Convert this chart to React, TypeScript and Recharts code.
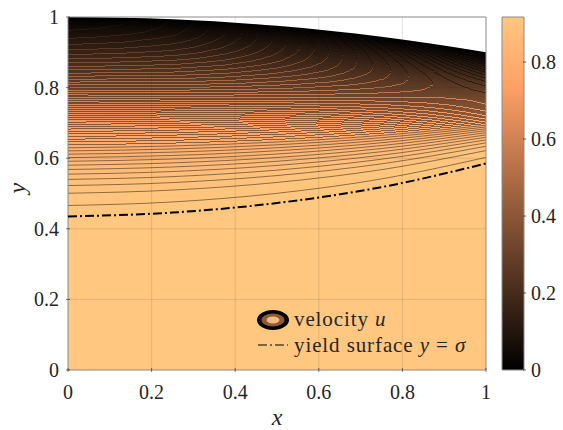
import { Area, ComposedChart, Legend, Line, ReferenceArea, ReferenceLine, XAxis, YAxis } from "recharts";

const INK = "#262626";
const SERIF = "'Liberation Serif', serif";

const xs = [0, 0.25, 0.5, 0.75, 1];
const topBoundary = [1, 0.9938, 0.975, 0.9438, 0.9];
const yieldSurface = [0.435, 0.446, 0.473, 0.518, 0.585];
const axisTicks = [0, 0.2, 0.4, 0.6, 0.8, 1];
const gridTicks = [0.2, 0.4, 0.6, 0.8];
const colorbarTicks = [0, 0.2, 0.4, 0.6, 0.8];
const colorbarMax = 0.917;

// velocity of each contour, lowest line first
const contourLevels = [
  0.914, 0.905, 0.895, 0.885, 0.876, 0.866, 0.857, 0.847, 0.837, 0.828, 0.818, 0.808, 0.799, 0.789, 0.78, 0.77,
  0.76, 0.751, 0.741, 0.731, 0.722, 0.712, 0.702, 0.693, 0.683, 0.674, 0.664, 0.654, 0.645, 0.635, 0.625, 0.616,
  0.606, 0.597, 0.587, 0.577, 0.568, 0.558, 0.548, 0.539, 0.529, 0.52, 0.51, 0.5, 0.491, 0.481, 0.471, 0.462,
  0.452, 0.442, 0.433, 0.423, 0.414, 0.404, 0.394, 0.385, 0.375, 0.365, 0.356, 0.346, 0.337, 0.327, 0.317, 0.308,
  0.298, 0.288, 0.279, 0.269, 0.26, 0.25, 0.24, 0.231, 0.221, 0.211, 0.202, 0.192, 0.182, 0.173, 0.163, 0.154,
  0.144, 0.134, 0.125, 0.115, 0.105, 0.096, 0.086, 0.077, 0.067, 0.057, 0.048, 0.038, 0.028, 0.019,
];

// y of each contour at the xs columns
const contours = [
  [0.466, 0.476, 0.5005, 0.5413, 0.6023],
  [0.5007, 0.5097, 0.5313, 0.5675, 0.6216],
  [0.5225, 0.5309, 0.5508, 0.584, 0.6338],
  [0.5399, 0.5478, 0.5662, 0.5971, 0.6435],
  [0.5548, 0.5622, 0.5795, 0.6084, 0.6518],
  [0.5681, 0.5751, 0.5913, 0.6184, 0.6592],
  [0.5802, 0.5868, 0.602, 0.6274, 0.6659],
  [0.5913, 0.5976, 0.6119, 0.6358, 0.6721],
  [0.6017, 0.6077, 0.6211, 0.6437, 0.6779],
  [0.6114, 0.6171, 0.6297, 0.651, 0.6833],
  [0.6207, 0.6261, 0.638, 0.658, 0.6885],
  [0.6295, 0.6346, 0.6458, 0.6646, 0.6934],
  [0.638, 0.6428, 0.6533, 0.671, 0.6982],
  [0.646, 0.6507, 0.6605, 0.6771, 0.7027],
  [0.6538, 0.6582, 0.6674, 0.683, 0.707],
  [0.6613, 0.6655, 0.6741, 0.6887, 0.7112],
  [0.6686, 0.6726, 0.6806, 0.6942, 0.7153],
  [0.6757, 0.6795, 0.6869, 0.6995, 0.7192],
  [0.6826, 0.6861, 0.693, 0.7047, 0.723],
  [0.6893, 0.6926, 0.6989, 0.7097, 0.7268],
  [0.6958, 0.6989, 0.7047, 0.7146, 0.7304],
  [0.7021, 0.7051, 0.7104, 0.7194, 0.7339],
  [0.7083, 0.7111, 0.7158, 0.7241, 0.7374],
  [0.7144, 0.717, 0.7212, 0.7287, 0.7408],
  [0.7203, 0.7227, 0.7265, 0.7331, 0.7441],
  [0.7261, 0.7284, 0.7317, 0.7375, 0.7473],
  [0.7319, 0.7339, 0.7368, 0.7418, 0.7505],
  [0.7374, 0.7393, 0.7417, 0.746, 0.7536],
  [0.7429, 0.7447, 0.7466, 0.7502, 0.7567],
  [0.7483, 0.7499, 0.7514, 0.7542, 0.7597],
  [0.7536, 0.755, 0.7561, 0.7582, 0.7626],
  [0.7588, 0.7601, 0.7607, 0.7621, 0.7655],
  [0.7639, 0.765, 0.7653, 0.766, 0.7684],
  [0.769, 0.77, 0.7698, 0.7699, 0.7712],
  [0.774, 0.7748, 0.7742, 0.7736, 0.774],
  [0.7789, 0.7796, 0.7786, 0.7773, 0.7767],
  [0.7838, 0.7843, 0.7829, 0.781, 0.7795],
  [0.7885, 0.7889, 0.7871, 0.7846, 0.7821],
  [0.7932, 0.7934, 0.7913, 0.7881, 0.7847],
  [0.7979, 0.798, 0.7954, 0.7916, 0.7873],
  [0.8025, 0.8024, 0.7995, 0.7951, 0.7899],
  [0.807, 0.8068, 0.8035, 0.7985, 0.7924],
  [0.8115, 0.8111, 0.8075, 0.8018, 0.7949],
  [0.8159, 0.8155, 0.8115, 0.8052, 0.7974],
  [0.8203, 0.8197, 0.8153, 0.8085, 0.7998],
  [0.8246, 0.8239, 0.8192, 0.8118, 0.8022],
  [0.8289, 0.828, 0.8229, 0.815, 0.8046],
  [0.8331, 0.8321, 0.8267, 0.8182, 0.8069],
  [0.8373, 0.8362, 0.8304, 0.8213, 0.8093],
  [0.8415, 0.8402, 0.8341, 0.8245, 0.8116],
  [0.8455, 0.8442, 0.8378, 0.8275, 0.8139],
  [0.8496, 0.8481, 0.8414, 0.8306, 0.8161],
  [0.8536, 0.852, 0.8449, 0.8336, 0.8184],
  [0.8576, 0.8559, 0.8485, 0.8367, 0.8206],
  [0.8616, 0.8597, 0.852, 0.8396, 0.8228],
  [0.8655, 0.8635, 0.8555, 0.8426, 0.825],
  [0.8694, 0.8673, 0.8589, 0.8455, 0.8272],
  [0.8732, 0.871, 0.8624, 0.8484, 0.8293],
  [0.877, 0.8747, 0.8657, 0.8513, 0.8314],
  [0.8808, 0.8784, 0.8691, 0.8541, 0.8335],
  [0.8845, 0.882, 0.8724, 0.8569, 0.8356],
  [0.8882, 0.8856, 0.8757, 0.8597, 0.8377],
  [0.8919, 0.8892, 0.879, 0.8625, 0.8397],
  [0.8956, 0.8927, 0.8822, 0.8653, 0.8418],
  [0.8992, 0.8962, 0.8854, 0.868, 0.8438],
  [0.9028, 0.8997, 0.8887, 0.8707, 0.8458],
  [0.9064, 0.9032, 0.8918, 0.8734, 0.8478],
  [0.9099, 0.9066, 0.8949, 0.8761, 0.8498],
  [0.9134, 0.91, 0.8981, 0.8787, 0.8517],
  [0.9169, 0.9134, 0.9012, 0.8813, 0.8537],
  [0.9204, 0.9168, 0.9043, 0.884, 0.8556],
  [0.9238, 0.9201, 0.9073, 0.8866, 0.8575],
  [0.9272, 0.9234, 0.9103, 0.8891, 0.8594],
  [0.9306, 0.9267, 0.9134, 0.8917, 0.8613],
  [0.934, 0.93, 0.9164, 0.8942, 0.8632],
  [0.9373, 0.9332, 0.9193, 0.8968, 0.8651],
  [0.9407, 0.9365, 0.9223, 0.8993, 0.8669],
  [0.944, 0.9396, 0.9252, 0.9017, 0.8688],
  [0.9472, 0.9428, 0.9281, 0.9042, 0.8706],
  [0.9505, 0.946, 0.931, 0.9067, 0.8724],
  [0.9538, 0.9492, 0.9339, 0.9092, 0.8742],
  [0.957, 0.9523, 0.9368, 0.9116, 0.876],
  [0.9602, 0.9554, 0.9396, 0.914, 0.8778],
  [0.9633, 0.9584, 0.9424, 0.9164, 0.8796],
  [0.9665, 0.9615, 0.9452, 0.9187, 0.8813],
  [0.9697, 0.9646, 0.948, 0.9211, 0.8831],
  [0.9728, 0.9676, 0.9508, 0.9235, 0.8848],
  [0.9759, 0.9706, 0.9536, 0.9258, 0.8865],
  [0.979, 0.9736, 0.9563, 0.9282, 0.8883],
  [0.982, 0.9766, 0.959, 0.9305, 0.89],
  [0.9851, 0.9796, 0.9618, 0.9328, 0.8917],
  [0.9881, 0.9825, 0.9645, 0.9351, 0.8934],
  [0.9912, 0.9855, 0.9672, 0.9374, 0.8951],
  [0.9942, 0.9884, 0.9698, 0.9396, 0.8968],
];

const copper = (t: number) => {
  const r = Math.round(255 * Math.min(1, 1.25 * t));
  const g = Math.round(255 * 0.7812 * t);
  const b = Math.round(255 * 0.4975 * t);
  return `rgb(${r},${g},${b})`;
};

const rows = xs.map((x, i) => {
  const row: Record<string, number> = { x, top: topBoundary[i], yieldLine: yieldSurface[i] };
  contours.forEach((c, k) => {
    row[`c${k}`] = c[i];
  });
  return row;
});

const colorbarRows = [
  { x: 0, top: colorbarMax },
  { x: 1, top: colorbarMax },
];

const label = (v: number) => String(v);

const BottomTick = ({ x, y, payload }: any) => (
  <g>
    <line x1={x} x2={x} y1={y - 4} y2={y} stroke={INK} strokeOpacity={0.6} />
    <text x={x} y={y + 27} textAnchor="middle" fontFamily={SERIF} fontSize={20} fill={INK}>
      {label(payload.value)}
    </text>
  </g>
);

const LeftTick = ({ x, y, payload }: any) => (
  <g>
    <line x1={x} x2={x + 4} y1={y} y2={y} stroke={INK} strokeOpacity={0.6} />
    <text x={x - 7} y={y + 7} textAnchor="end" fontFamily={SERIF} fontSize={20} fill={INK}>
      {label(payload.value)}
    </text>
  </g>
);

const TopTick = ({ x, y }: any) => <line x1={x} x2={x} y1={y} y2={y + 4} stroke={INK} strokeOpacity={0.6} />;
const RightTick = ({ x, y }: any) => <line x1={x} x2={x - 4} y1={y} y2={y} stroke={INK} strokeOpacity={0.6} />;

const BarTick = ({ x, y, payload }: any) => (
  <g>
    <line x1={x} x2={x - 3} y1={y} y2={y} stroke={INK} strokeOpacity={0.7} />
    <text x={x + 5} y={y + 7} fontFamily={SERIF} fontSize={20} fill={INK}>
      {label(payload.value)}
    </text>
  </g>
);

function LegendBox() {
  const text = { fontFamily: SERIF, fontSize: 21, letterSpacing: 0.9, fill: INK };
  return (
    <svg width={230} height={60} style={{ display: "block" }}>
      <ellipse cx={17} cy={15} rx={16} ry={10} fill="#000" />
      <ellipse cx={17} cy={15} rx={11.5} ry={6.5} fill="#8f5a38" />
      <ellipse cx={17} cy={15} rx={6.5} ry={3.5} fill="#f0bd7c" />
      <text x={38} y={21} {...text}>
        velocity <tspan fontStyle="italic">u</tspan>
      </text>
      <line x1={2} x2={32} y1={40} y2={40} stroke="#000" strokeWidth={1.2} strokeDasharray="9 3 2 3" />
      <text x={38} y={47} {...text}>
        yield surface <tspan fontStyle="italic">y</tspan> = <tspan fontStyle="italic">σ</tspan>
      </text>
    </svg>
  );
}

export default function App() {
  return (
    <div style={{ position: "absolute", left: 0, top: 0, width: 563, height: 430, background: "#fff" }}>
      <ComposedChart width={563} height={430} data={rows} margin={{ top: 17, right: 77, bottom: 0, left: 0 }}>
        <XAxis
          type="number"
          dataKey="x"
          domain={[0, 1]}
          ticks={axisTicks}
          height={60}
          tickSize={0}
          axisLine={false}
          tickLine={false}
          tick={BottomTick}
          label={{
            value: "x",
            position: "insideBottom",
            offset: 5,
            style: { fontFamily: SERIF, fontStyle: "italic", fontSize: 24, fill: INK },
          }}
        />
        <XAxis xAxisId="top" orientation="top" type="number" dataKey="x" domain={[0, 1]} ticks={axisTicks} height={0} tickSize={0} axisLine={false} tickLine={false} tick={TopTick} />
        <YAxis
          type="number"
          domain={[0, 1]}
          ticks={axisTicks}
          width={68}
          tickSize={0}
          axisLine={false}
          tickLine={false}
          tick={LeftTick}
          label={{
            value: "y",
            angle: -90,
            position: "insideLeft",
            offset: 16,
            style: { fontFamily: SERIF, fontStyle: "italic", fontSize: 24, fill: INK },
          }}
        />
        <YAxis yAxisId="right" orientation="right" type="number" domain={[0, 1]} ticks={axisTicks} width={0} tickSize={0} axisLine={false} tickLine={false} tick={RightTick} />
        <Area dataKey="top" type="monotone" fill="#000" fillOpacity={1} stroke="none" isAnimationActive={false} />
        {contours
          .map((_, k) => (
            <Area
              key={k}
              dataKey={`c${k}`}
              type="monotone"
              fill={copper(contourLevels[k] / colorbarMax)}
              fillOpacity={1}
              stroke="#000"
              strokeWidth={0.6}
              strokeOpacity={0.75}
              shapeRendering={k < 12 ? "auto" : "crispEdges"}
              isAnimationActive={false}
            />
          ))
          .reverse()}
        <Area dataKey="yieldLine" type="monotone" fill={copper(1)} fillOpacity={1} stroke="none" isAnimationActive={false} />
        <Line dataKey="yieldLine" type="monotone" stroke="#000" strokeWidth={2} strokeDasharray="9 3 2 3" dot={false} isAnimationActive={false} />
        {gridTicks.map((v) => (
          <ReferenceLine key={`gx${v}`} x={v} stroke={INK} strokeOpacity={0.13} />
        ))}
        {gridTicks.map((v) => (
          <ReferenceLine key={`gy${v}`} y={v} stroke={INK} strokeOpacity={0.13} />
        ))}
        <ReferenceArea x1={0} x2={1} y1={0} y2={1} fill="none" stroke="#8a8a8a" strokeWidth={1} />
        <Legend
          layout="vertical"
          align="center"
          verticalAlign="middle"
          content={() => <LegendBox />}
          wrapperStyle={{ position: "absolute", left: 256, top: 305, width: 230, height: 60 }}
        />
      </ComposedChart>
      <div style={{ position: "absolute", left: 490, top: 0 }}>
        <ComposedChart width={73} height={430} data={colorbarRows} margin={{ top: 17, right: 0, bottom: 60, left: 12 }}>
          <defs>
            <linearGradient id="copperMap" x1="0" y1="1" x2="0" y2="0">
              <stop offset="0%" stopColor={copper(0)} />
              <stop offset="80%" stopColor={copper(0.8)} />
              <stop offset="100%" stopColor={copper(1)} />
            </linearGradient>
          </defs>
          <XAxis type="number" dataKey="x" domain={[0, 1]} hide />
          <YAxis
            orientation="right"
            type="number"
            domain={[0, colorbarMax]}
            ticks={colorbarTicks}
            width={39}
            tickSize={0}
            axisLine={false}
            tickLine={false}
            tick={BarTick}
          />
          <Area dataKey="top" fill="url(#copperMap)" fillOpacity={1} stroke="none" isAnimationActive={false} />
          <ReferenceArea x1={0} x2={1} y1={0} y2={colorbarMax} fill="none" stroke="#8a8a8a" strokeWidth={1} />
        </ComposedChart>
      </div>
    </div>
  );
}
